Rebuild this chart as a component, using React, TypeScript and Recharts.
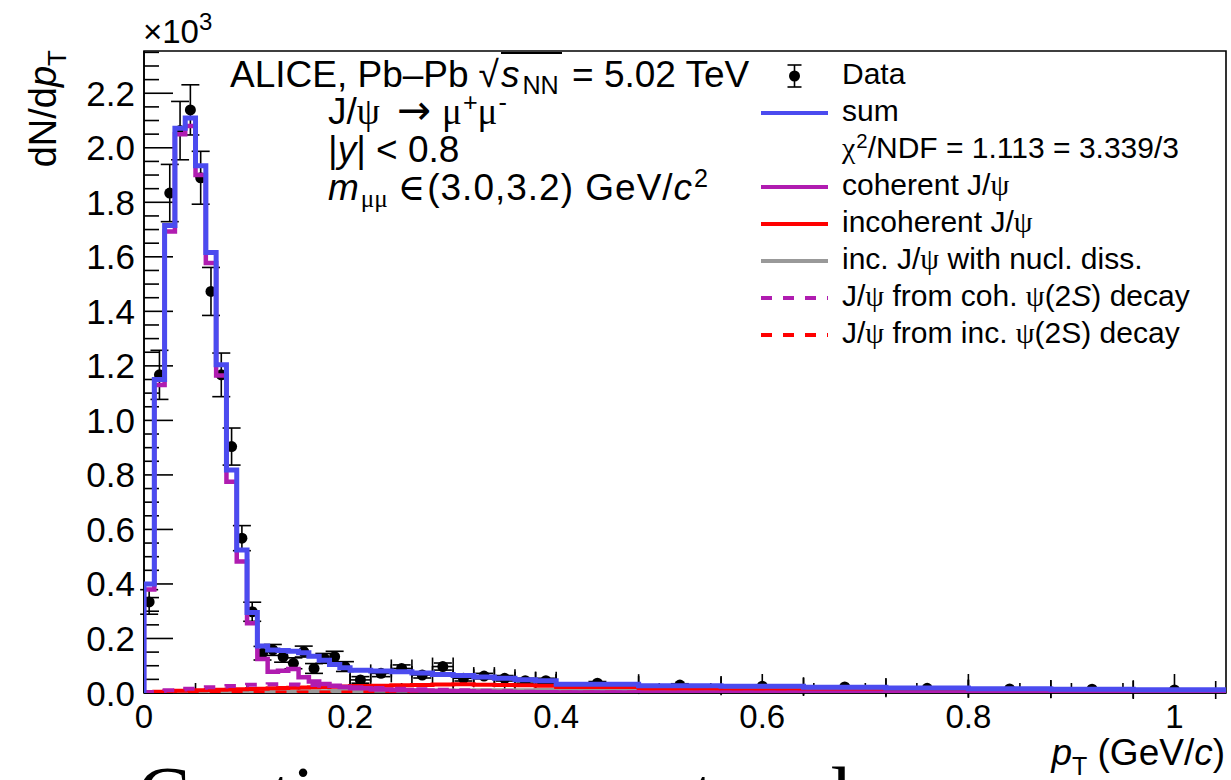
import React from 'react';
import { ComposedChart, Line, Scatter, ErrorBar, XAxis, YAxis, ReferenceArea } from 'recharts';

const FONT = '"Liberation Sans", Arial, Helvetica, sans-serif';
const SERIF = '"Liberation Serif", "DejaVu Serif", serif';

const W = 1231;
const H = 780;
const X_MAX = 1.05;
const Y_MAX = 2.355; // x10^3
const MARGIN = { top: 51, right: 5, bottom: 27, left: 44 };

// pT bin edges (GeV/c)
const binEdges = [
  0, 0.01, 0.02, 0.03, 0.04, 0.05, 0.06, 0.07, 0.08, 0.09, 0.1,
  0.11, 0.12, 0.13, 0.14, 0.15, 0.16, 0.17, 0.18, 0.19, 0.2,
  0.22, 0.24, 0.26, 0.28, 0.3, 0.32, 0.34, 0.36, 0.38, 0.4,
  0.48, 0.56, 0.64, 0.72, 0.8, 0.88, 0.96, 1.04,
];

// measured dN/dpT (x10^3)
const dataValues = [
  0.334, 1.167, 1.834, 2.063, 2.139, 1.89, 1.473, 1.167, 0.904, 0.568,
  0.298, 0.146, 0.158, 0.133, 0.109, 0.152, 0.09, 0.127, 0.133, 0.097,
  0.048, 0.072, 0.09, 0.066, 0.097, 0.054, 0.062, 0.054, 0.045, 0.045,
  0.036, 0.029, 0.025, 0.022, 0.017, 0.015, 0.014, 0.011,
];
const dataErrors = [
  0.045, 0.09, 0.105, 0.107, 0.092, 0.097, 0.088, 0.08, 0.068, 0.046,
  0.035, 0.025, 0.02, 0.02, 0.02, 0.02, 0.018, 0.018, 0.02, 0.018,
  0.012, 0.012, 0.013, 0.011, 0.013, 0.01, 0.01, 0.01, 0.009, 0.009,
  0.006, 0.005, 0.004, 0.004, 0.003, 0.003, 0.003, 0.003,
];

// fit components per bin (x10^3)
const sumModel = [
  0.4, 1.15, 1.715, 2.072, 2.109, 1.934, 1.616, 1.204, 0.818, 0.525,
  0.295, 0.172, 0.158, 0.156, 0.153, 0.148, 0.135, 0.12, 0.105, 0.093,
  0.083, 0.081, 0.078, 0.073, 0.068, 0.064, 0.059, 0.054, 0.049, 0.045,
  0.032, 0.027, 0.025, 0.021, 0.018, 0.016, 0.014, 0.012,
];
const coherentModel = [
  0.38, 1.13, 1.693, 2.05, 2.08, 1.9, 1.577, 1.165, 0.775, 0.482,
  0.256, 0.125, 0.078, 0.082, 0.088, 0.058, 0.042, 0.033, 0.027, 0.022,
  0.017, 0.013, 0.011, 0.009, 0.007, 0.006, 0.005, 0.004, 0.003, 0.003,
  0.002, 0.001, 0.001, 0.0005, 0.0005, 0.0003, 0.0002, 0.0002,
];
const incoherentModel = [
  0.003, 0.005, 0.007, 0.008, 0.009, 0.01, 0.011, 0.012, 0.013, 0.014,
  0.015, 0.016, 0.017, 0.018, 0.019, 0.02, 0.021, 0.022, 0.023, 0.024,
  0.026, 0.027, 0.028, 0.029, 0.031, 0.032, 0.03, 0.029, 0.028, 0.027,
  0.022, 0.016, 0.01, 0.006, 0.004, 0.002, 0.001, 0.001,
];
const nuclDissModel = [
  0.001, 0.001, 0.0015, 0.002, 0.002, 0.0025, 0.003, 0.003, 0.0035, 0.004,
  0.004, 0.0045, 0.005, 0.005, 0.0055, 0.006, 0.006, 0.0065, 0.007, 0.007,
  0.0075, 0.008, 0.0085, 0.009, 0.009, 0.0095, 0.01, 0.01, 0.0105, 0.011,
  0.012, 0.012, 0.012, 0.011, 0.01, 0.009, 0.008, 0.007,
];
const cohPsi2SModel = [
  0.004, 0.007, 0.01, 0.013, 0.016, 0.019, 0.021, 0.024, 0.026, 0.028,
  0.03, 0.031, 0.032, 0.032, 0.031, 0.03, 0.029, 0.027, 0.025, 0.023,
  0.021, 0.018, 0.016, 0.014, 0.012, 0.01, 0.008, 0.006, 0.005, 0.004,
  0.002, 0.001, 0.0005, 0.0003, 0.0002, 0.0001, 0.0001, 0.0001,
];
const incPsi2SModel = [
  0.0003, 0.0005, 0.0007, 0.0008, 0.0009, 0.001, 0.0011, 0.0012, 0.0013, 0.0014,
  0.0015, 0.0016, 0.0017, 0.0018, 0.0019, 0.002, 0.002, 0.0021, 0.0022, 0.0022,
  0.0023, 0.0024, 0.0025, 0.0025, 0.0026, 0.0026, 0.0025, 0.0024, 0.0023, 0.0022,
  0.0018, 0.0013, 0.0009, 0.0006, 0.0004, 0.0003, 0.0002, 0.0001,
];

const xMajorTicks = [0, 0.2, 0.4, 0.6, 0.8, 1];
const xTickLabels = ['0', '0.2', '0.4', '0.6', '0.8', '1'];
const yMajorTicks = [0, 0.2, 0.4, 0.6, 0.8, 1.0, 1.2, 1.4, 1.6, 1.8, 2.0, 2.2];
const yTickLabels = ['0.0', '0.2', '0.4', '0.6', '0.8', '1.0', '1.2', '1.4', '1.6', '1.8', '2.0', '2.2'];
const MINOR_STEP = 0.05;

const COLORS = {
  sum: '#4b4bef',
  coherent: '#b01cb0',
  incoherent: '#ff0000',
  nucl: '#999999',
};

const xTicksAll: number[] = [];
for (let i = 0; i * MINOR_STEP <= 1.0001; i++) xTicksAll.push(+(i * MINOR_STEP).toFixed(2));
const yTicksAll: number[] = [];
for (let i = 0; i * MINOR_STEP <= Y_MAX; i++) yTicksAll.push(+(i * MINOR_STEP).toFixed(2));

function stepData(vals: number[]) {
  const pts = [{ x: binEdges[0], y: 0 }];
  vals.forEach((v, i) => pts.push({ x: binEdges[i], y: v }));
  pts.push({ x: X_MAX, y: vals[vals.length - 1] });
  return pts;
}

const dataPoints = dataValues.map((v, i) => {
  const lo = binEdges[i];
  const hi = binEdges[i + 1];
  const w = hi - lo;
  return { x: (lo + hi) / 2, y: v, ey: dataErrors[i], ex: w > 0.015 ? w / 2 : 0 };
});

const findIdx = (arr: number[], v: number) => arr.findIndex((t) => Math.abs(t - v) < 1e-6);

const XTick = (props: any) => {
  const { x, y, payload } = props;
  const mi = findIdx(xMajorTicks, payload.value);
  const major = mi >= 0;
  return (
    <g>
      <line x1={x} x2={x} y1={y} y2={y - (major ? 19 : 10)} stroke="#000" strokeWidth={1.6} />
      {major && (
        <text x={x} y={y + 35} textAnchor="middle" fontSize={33} fontFamily={FONT} fill="#000">
          {xTickLabels[mi]}
        </text>
      )}
    </g>
  );
};

const YTick = (props: any) => {
  const { x, y, payload } = props;
  const mi = findIdx(yMajorTicks, payload.value);
  const major = mi >= 0;
  return (
    <g>
      <line x1={x} x2={x + (major ? 29 : 15)} y1={y} y2={y} stroke="#000" strokeWidth={1.6} />
      {major && (
        <text x={x - 9} y={y + 12.5} textAnchor="end" fontSize={35} fontFamily={FONT} fill="#000">
          {yTickLabels[mi]}
        </text>
      )}
    </g>
  );
};

const Dot = (props: any) => <circle cx={props.cx} cy={props.cy} r={5.5} fill="#000" />;

function axes(visible: boolean) {
  return [
    <XAxis
      key="x"
      type="number"
      dataKey="x"
      domain={[0, X_MAX]}
      allowDataOverflow
      ticks={xTicksAll}
      interval={0}
      tickSize={0}
      tickMargin={0}
      height={60}
      tick={visible ? <XTick /> : false}
      axisLine={visible ? { stroke: '#000', strokeWidth: 1.6 } : false}
      tickLine={false}
    />,
    <YAxis
      key="y"
      type="number"
      dataKey="y"
      domain={[0, Y_MAX]}
      allowDataOverflow
      ticks={yTicksAll}
      interval={0}
      tickSize={0}
      tickMargin={0}
      width={100}
      tick={visible ? <YTick /> : false}
      axisLine={visible ? { stroke: '#000', strokeWidth: 1.6 } : false}
      tickLine={false}
    />,
  ];
}

const Sub = ({ children, ml = 0 }: any) => (
  <span style={{ fontSize: '0.68em', position: 'relative', top: '0.28em', marginLeft: ml, lineHeight: 0 }}>{children}</span>
);
const Sup = ({ children, ml = 0 }: any) => (
  <span style={{ fontSize: '0.68em', position: 'relative', top: '-0.5em', marginLeft: ml, lineHeight: 0 }}>{children}</span>
);
const G = ({ children }: any) => <span style={{ fontFamily: SERIF, lineHeight: 0 }}>{children}</span>;

const Txt = ({ x, base, size = 31, children }: any) => (
  <div
    style={{
      position: 'absolute',
      left: x,
      top: base - size * 0.905,
      fontSize: size,
      lineHeight: 'normal',
      fontFamily: FONT,
      whiteSpace: 'nowrap',
      color: '#000',
    }}
  >
    {children}
  </div>
);

const legendRows = [
  { kind: 'data', label: <>Data</> },
  { kind: 'line', color: COLORS.sum, label: <>sum</> },
  { kind: 'none', label: <><G>χ</G><Sup ml={1}>2</Sup>/NDF = 1.113 = 3.339/3</> },
  { kind: 'line', color: COLORS.coherent, label: <>coherent J/<G>ψ</G></> },
  { kind: 'line', color: COLORS.incoherent, label: <>incoherent J/<G>ψ</G></> },
  { kind: 'line', color: COLORS.nucl, label: <>inc. J/<G>ψ</G> with nucl. diss.</> },
  { kind: 'dash', color: COLORS.coherent, label: <>J/<G>ψ</G> from coh. <G>ψ</G>(2<i>S</i>) decay</> },
  { kind: 'dash', color: COLORS.incoherent, label: <>J/<G>ψ</G> from inc. <G>ψ</G>(2S) decay</> },
];
const LEG_X = 761;
const LEG_TEXT_X = 842;
const LEG_BASE0 = 84;
const LEG_STEP = 37;

const ANN = 37;

export default function App() {
  return (
    <div style={{ position: 'absolute', left: 0, top: 0, width: W, height: H, overflow: 'hidden', background: '#fff' }}>
      {/* layer 1: axes, frame and data points */}
      <div style={{ position: 'absolute', left: 0, top: 0 }}>
        <ComposedChart width={W} height={H} margin={MARGIN}>
          {axes(true)}
          <ReferenceArea x1={0} x2={X_MAX} y1={0} y2={Y_MAX} fill="none" fillOpacity={0} stroke="#000" strokeWidth={1.6} />
          <Scatter data={dataPoints} dataKey="y" fill="#000" shape={<Dot />} isAnimationActive={false}>
            <ErrorBar dataKey="ey" direction="y" width={9} stroke="#000" strokeWidth={1.6} isAnimationActive={false} />
            <ErrorBar dataKey="ex" direction="x" width={9} stroke="#000" strokeWidth={1.6} isAnimationActive={false} />
          </Scatter>
        </ComposedChart>
      </div>

      {/* layer 2: fit components drawn over the data */}
      <div style={{ position: 'absolute', left: 0, top: 0 }}>
        <ComposedChart width={W} height={H} margin={MARGIN}>
          {axes(false)}
          <Line data={stepData(nuclDissModel)} dataKey="y" type="stepAfter" stroke={COLORS.nucl} strokeWidth={4} dot={false} activeDot={false} isAnimationActive={false} />
          <Line data={stepData(incoherentModel)} dataKey="y" type="stepAfter" stroke={COLORS.incoherent} strokeWidth={4} dot={false} activeDot={false} isAnimationActive={false} />
          <Line data={stepData(incPsi2SModel)} dataKey="y" type="stepAfter" stroke={COLORS.incoherent} strokeWidth={4} strokeDasharray="11 11" dot={false} activeDot={false} isAnimationActive={false} />
          <Line data={stepData(cohPsi2SModel)} dataKey="y" type="stepAfter" stroke={COLORS.coherent} strokeWidth={4} strokeDasharray="11 11" dot={false} activeDot={false} isAnimationActive={false} />
          <Line data={stepData(coherentModel)} dataKey="y" type="stepAfter" stroke={COLORS.coherent} strokeWidth={4.5} dot={false} activeDot={false} isAnimationActive={false} />
          <Line data={stepData(sumModel)} dataKey="y" type="stepAfter" stroke={COLORS.sum} strokeWidth={5} dot={false} activeDot={false} isAnimationActive={false} />
        </ComposedChart>
      </div>

      {/* overlay: axis titles, multiplier, legend symbols */}
      <svg width={W} height={H} style={{ position: 'absolute', left: 0, top: 0, pointerEvents: 'none' }}>
        <text x={143} y={43} fontSize={33} fontFamily={FONT} fill="#000">
          ×10<tspan fontSize={24} dy={-13}>3</tspan>
        </text>
        <text transform="rotate(-90 56 50)" x={56} y={50} textAnchor="end" fontSize={38} fontFamily={FONT} fill="#000">
          dN/d<tspan fontStyle="italic">p</tspan><tspan fontSize={26} dy={10}>T</tspan>
        </text>
        <text x={1225} y={765} textAnchor="end" fontSize={37} fontFamily={FONT} fill="#000">
          <tspan fontStyle="italic">p</tspan><tspan fontSize={25} dy={10}>T</tspan><tspan dy={-10}> (GeV/</tspan><tspan fontStyle="italic">c</tspan>)
        </text>
        <text x={137} y={822} fontSize={80} fontFamily={SERIF} fill="#000">Continuous or not and</text>
        {legendRows.map((r, i) => {
          const base = LEG_BASE0 + i * LEG_STEP;
          const ly = base - 8;
          if (r.kind === 'data') {
            const cx = 794.5;
            return (
              <g key={i}>
                <line x1={cx} x2={cx} y1={ly - 11} y2={ly + 11} stroke="#000" strokeWidth={1.6} />
                <line x1={cx - 7} x2={cx + 7} y1={ly - 11} y2={ly - 11} stroke="#000" strokeWidth={1.6} />
                <line x1={cx - 7} x2={cx + 7} y1={ly + 11} y2={ly + 11} stroke="#000" strokeWidth={1.6} />
                <circle cx={cx} cy={ly} r={5.5} fill="#000" />
              </g>
            );
          }
          if (r.kind === 'line' || r.kind === 'dash') {
            return (
              <line key={i} x1={LEG_X} x2={LEG_X + 67} y1={ly} y2={ly} stroke={r.color} strokeWidth={4}
                strokeDasharray={r.kind === 'dash' ? '11 11' : undefined} />
            );
          }
          return null;
        })}
      </svg>

      {legendRows.map((r, i) => (
        <Txt key={i} x={LEG_TEXT_X} base={LEG_BASE0 + i * LEG_STEP} size={30}>
          {r.label}
        </Txt>
      ))}

      <Txt x={230} base={87} size={ANN}>
        ALICE, Pb–Pb<span style={{ marginLeft: 10, marginRight: 2 }}>√</span>
        <span style={{ borderTop: '2px solid #000', paddingRight: 3 }}>
          <i>s</i>
          <Sub ml={3}>NN</Sub>
        </span>{' '}
        = 5.02 TeV
      </Txt>
      <Txt x={328} base={124} size={ANN}>
        J/<G>ψ</G>
        <span style={{ fontFamily: '"DejaVu Sans", sans-serif', fontSize: '1.1em', lineHeight: 0, margin: '0 11px 0 17px' }}>→</span>
        <G>μ</G>
        <Sup ml={1}>+</Sup>
        <G>μ</G>
        <Sup ml={1}>-</Sup>
      </Txt>
      <Txt x={328} base={162} size={ANN}>
        |<i>y</i>| &lt; 0.8
      </Txt>
      <Txt x={328} base={200} size={ANN}>
        <i>m</i>
        <Sub ml={2}>
          <G>μμ</G>
        </Sub>
        <span style={{ fontFamily: SERIF, lineHeight: 0, margin: '0 2px 0 10px' }}>∈</span>
        <span style={{ letterSpacing: 1 }}>(3.0,3.2) GeV/</span>
        <i>c</i>
        <Sup ml={2}>2</Sup>
      </Txt>
    </div>
  );
}
